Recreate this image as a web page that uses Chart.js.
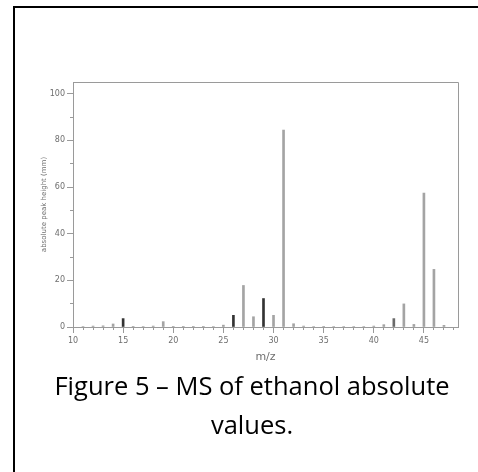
<!DOCTYPE html>
<html>
<head>
<meta charset="utf-8">
<script src="https://cdn.jsdelivr.net/npm/chart.js@4.4.1/dist/chart.umd.min.js"></script>
<style>
  html, body { margin: 0; padding: 0; background: #fff; overflow: hidden; width: 478px; height: 472px; }
  #frame { position: absolute; left: 13px; top: 6px; width: 600px; height: 600px; border: 2px solid #000; box-sizing: border-box; }
  #wrap { position: absolute; left: 0; top: 0; width: 478px; height: 372px; }
  #caption { position: absolute; left: 0; top: 366px; width: 504px; text-align: center;
             font-family: "Open Sans", sans-serif; font-size: 25.5px; line-height: 39px; color: #000; }
</style>
</head>
<body>
<div id="frame"></div>
<div id="wrap"><canvas id="c" width="478" height="372"></canvas></div>
<div id="caption">Figure 5 – MS of ethanol absolute<br>values.</div>
<script>
// m/z values and absolute peak heights (mm)
const mz = [11,12,13,14,15,16,17,18,19,20,21,22,23,24,25,26,27,28,29,30,31,32,33,34,35,36,37,38,39,40,41,42,43,44,45,46,47];
const heights = [0.2,0.4,0.5,1.3,3.6,0.3,0.2,0.4,2.3,0.1,0.1,0.1,0.1,0.2,0.8,5.0,17.8,4.4,12.2,5.0,84.4,1.4,0.4,0.2,0.1,0.2,0.2,0.2,0.2,0.4,1.0,3.6,9.9,1.1,57.4,24.7,0.7];
const xTicks = [10,15,20,25,30,35,40,45];
const yTicks = [0,20,40,60,80,100];
const xTitle = "m/z";
const yTitle = "absolute peak height (mm)";

// style: peaks drawn darker in the reference
const darkPeaks = [15,26,29];
const midPeaks = [42];

const AXIS = '#9a9a9a';
const TXT = '#6e6e6e';
const tickFont = { family: 'DejaVu Sans', size: 8 };

const points = mz.map((m, i) => ({ x: m, y: heights[i] }));
const colors = mz.map(m => darkPeaks.includes(m) ? '#333333' : (midPeaks.includes(m) ? '#6a6a6a' : '#a4a4a4'));

const boxPlugin = {
  id: 'box',
  afterDraw(chart) {
    const a = chart.chartArea, ctx = chart.ctx;
    ctx.save();
    ctx.strokeStyle = AXIS;
    ctx.lineWidth = 1;
    ctx.beginPath();
    ctx.moveTo(Math.round(a.left) + 0.5, Math.round(a.top) + 0.5);
    ctx.lineTo(Math.round(a.right) + 0.5, Math.round(a.top) + 0.5);
    ctx.lineTo(Math.round(a.right) + 0.5, Math.round(a.bottom) + 0.5);
    ctx.stroke();
    ctx.restore();
  }
};

new Chart(document.getElementById('c'), {
  type: 'bar',
  data: {
    datasets: [{
      data: points,
      xAxisID: 'x',
      yAxisID: 'y',
      backgroundColor: colors,
      borderWidth: 0,
      barThickness: 2,
      grouped: false
    }]
  },
  options: {
    responsive: false,
    animation: false,
    layout: { padding: { left: 36, top: 82, right: 20, bottom: 4 } },
    plugins: { legend: { display: false }, tooltip: { enabled: false } },
    scales: {
      x: {
        type: 'linear',
        position: 'bottom',
        offset: false,
        min: 10, max: 48.4,
        afterFit(s) { s.height = 41; },
        afterBuildTicks(s) { s.ticks = xTicks.map(v => ({ value: v })); },
        ticks: { font: tickFont, color: TXT, padding: 3, maxRotation: 0, includeBounds: false },
        grid: { drawOnChartArea: false, offset: false, tickLength: 6, color: AXIS, tickColor: AXIS },
        border: { display: true, color: AXIS, width: 1 },
        title: { display: true, text: xTitle, color: TXT, font: { family: 'DejaVu Sans', size: 11 }, padding: { top: 4, bottom: 4 } }
      },
      xm: {
        type: 'linear',
        position: { y: 0 },
        offset: false,
        min: 10, max: 48.4,
        ticks: { display: false, stepSize: 1, includeBounds: false },
        grid: { drawOnChartArea: false, offset: false, tickLength: 3, color: AXIS, tickColor: AXIS },
        border: { display: false }
      },
      y: {
        type: 'linear',
        position: 'left',
        min: 0, max: 105,
        afterFit(s) { s.width = 37; },
        afterBuildTicks(s) { s.ticks = yTicks.map(v => ({ value: v })); },
        ticks: { font: tickFont, color: TXT, padding: 2, includeBounds: false },
        grid: { drawOnChartArea: false, tickLength: 6, color: AXIS, tickColor: AXIS },
        border: { display: true, color: AXIS, width: 1 },
        title: { display: true, text: yTitle, color: TXT, font: { family: 'DejaVu Sans', size: 7 }, padding: { top: 4, bottom: 4 } }
      },
      ym: {
        type: 'linear',
        position: { x: 10 },
        min: 0, max: 105,
        ticks: { display: false, stepSize: 10, includeBounds: false },
        grid: { drawOnChartArea: false, tickLength: 3, color: AXIS, tickColor: AXIS },
        border: { display: false }
      }
    }
  },
  plugins: [boxPlugin]
});
</script>
</body>
</html>
